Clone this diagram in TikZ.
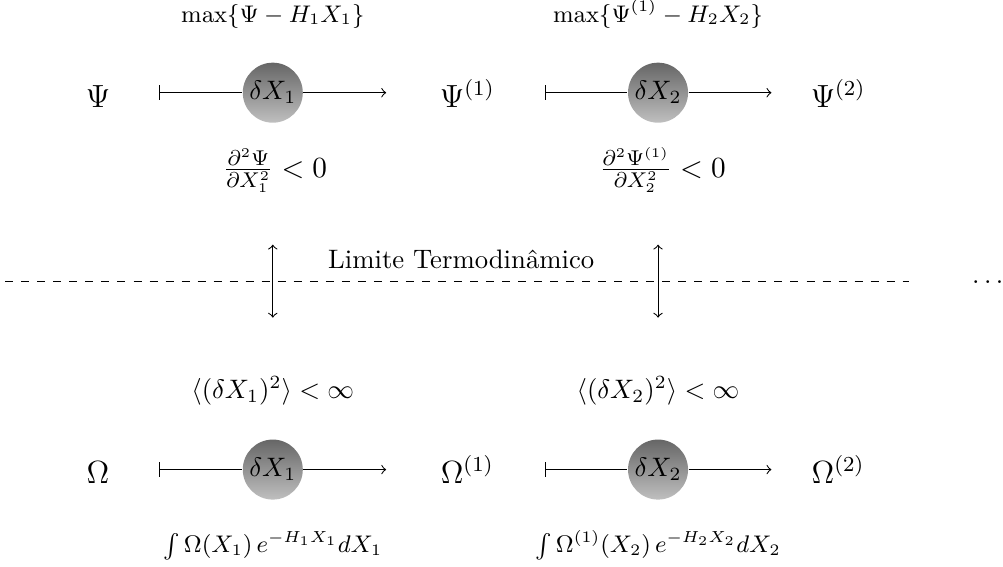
\documentclass[tikz,border=0pt]{standalone}
\usepackage{amsmath,amssymb}
\usepackage{tikz}
\usetikzlibrary{positioning}
\usetikzlibrary{arrows,calc}

\begin{document}
\begin{tikzpicture}[>=to,
  ball node/.style={circle,top color=black!60,bottom color=black!25,minimum size=0.79cm,inner sep=0pt},
  base node/.style={anchor=base},
  state node/.style={anchor=base,font=\large}]
  \useasboundingbox (0,0) rectangle (13.2,-7.46);
  % upper row
  \node (b1) [ball node] at (3.59,-1.22) {$\delta X_1$};
  \node (b2) [ball node] at (8.66,-1.22) {$\delta X_2$};
  \node (p0) [state node] at (1.29,-1.41) {$\Psi$};
  \node (p1) [state node] at (6.15,-1.41) {$\Psi^{(1)}$};
  \node (p2) [state node] at (11.03,-1.41) {$\Psi^{(2)}$};
  \node (m1) [base node,font=\small] at (3.59,-0.29) {$\max\{\Psi - H_1X_1\}$};
  \node (m2) [base node,font=\small] at (8.66,-0.29) {$\max\{\Psi^{(1)} - H_2X_2\}$};
  \node (f1) [base node,font=\fontsize{11pt}{13pt}\selectfont] at (3.62,-2.33) {$\frac{\partial^2\Psi}{\partial X_1^2} < 0$};
  \node (f2) [base node,font=\fontsize{11pt}{13pt}\selectfont] at (8.72,-2.33) {$\frac{\partial^2\Psi^{(1)}}{\partial X_2^2} < 0$};
  \coordinate [left=1.09cm of b1] (s1);
  \coordinate [right=1.09cm of b1] (e1);
  \coordinate [left=1.09cm of b2] (s2);
  \coordinate [right=1.09cm of b2] (e2);
  \draw[|-] (s1) -- (b1);
  \draw[->] (b1) -- (e1);
  \draw[|-] (s2) -- (b2);
  \draw[->] (b2) -- (e2);
  % lower row
  \node (b3) [ball node] at (3.59,-6.18) {$\delta X_1$};
  \node (b4) [ball node] at (8.66,-6.18) {$\delta X_2$};
  \node (o0) [state node] at (1.29,-6.36) {$\Omega$};
  \node (o1) [state node] at (6.15,-6.36) {$\Omega^{(1)}$};
  \node (o2) [state node] at (11.03,-6.36) {$\Omega^{(2)}$};
  \node (v1) [base node] at (3.59,-5.24) {$\langle(\delta X_1)^2\rangle < \infty$};
  \node (v2) [base node] at (8.66,-5.24) {$\langle(\delta X_2)^2\rangle < \infty$};
  \node (i1) [base node,font=\small] at (3.59,-7.27) {$\int\Omega(X_1)\,e^{-H_1X_1}dX_1$};
  \node (i2) [base node,font=\small] at (8.66,-7.27) {$\int\Omega^{(1)}(X_2)\,e^{-H_2X_2}dX_2$};
  \coordinate [left=1.09cm of b3] (s3);
  \coordinate [right=1.09cm of b3] (e3);
  \coordinate [left=1.09cm of b4] (s4);
  \coordinate [right=1.09cm of b4] (e4);
  \draw[|-] (s3) -- (b3);
  \draw[->] (b3) -- (e3);
  \draw[|-] (s4) -- (b4);
  \draw[->] (b4) -- (e4);
  % thermodynamic limit
  \coordinate (dl) at (0.07,-3.70);
  \coordinate (dr) at (11.96,-3.70);
  \draw[dashed] (dl) -- (dr);
  \node (dots) [base node] at (13.0,-3.73) {$\ldots$};
  \node (lim) [base node] at (6.07,-3.53) {Limite Termodin\^amico};
  \coordinate (u1) at (3.59,-3.22);
  \coordinate (d1) at (3.59,-4.18);
  \coordinate (u2) at (8.66,-3.22);
  \coordinate (d2) at (8.66,-4.18);
  \draw[<->] (u1) -- (d1);
  \draw[<->] (u2) -- (d2);
\end{tikzpicture}
\end{document}
